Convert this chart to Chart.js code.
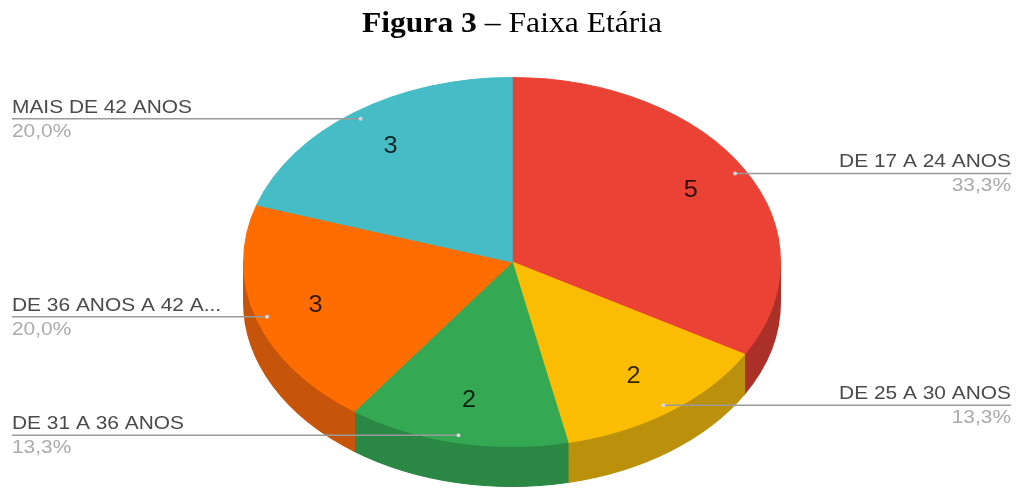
<!DOCTYPE html>
<html lang="pt">
<head>
    <meta charset="UTF-8">
    <title>Faixa Etária</title>
    <script src="https://cdn.jsdelivr.net/npm/chart.js"></script>
    <style>
        html, body { margin: 0; padding: 0; background: #fff; }
        .chart-container { position: relative; width: 1016px; height: 489px; }
    </style>
</head>
<body>
    <div class="chart-container">
        <canvas id="pieChart"></canvas>
    </div>

    <script>
        // data
        var categories = ['DE 17 A 24 ANOS', 'DE 25 A 30 ANOS', 'DE 31 A 36 ANOS', 'DE 36 ANOS A 42 A...', 'MAIS DE 42 ANOS'];
        var counts = [5, 2, 2, 3, 3];
        var sliceColors = ['#ea4335', '#fbbc04', '#34a853', '#ff6d01', '#46bdc6'];
        var sideColors = ['#ab3028', '#bb910b', '#2a8744', '#c6540b', '#379aa2'];
        var labelSide = ['right', 'right', 'left', 'left', 'left'];

        var TILT = 185 / 269;  // top face is squashed into an ellipse
        var DEPTH = 40;        // thickness of the pie
        var STRETCH = 1.1;     // source text is a little wide

        var total = counts.reduce(function (a, b) { return a + b; }, 0);

        function pct(v) {
            return (v / total * 100).toFixed(1).replace('.', ',') + '%';
        }

        function wideText(ctx, txt, x, y, align, k) {
            var w = ctx.measureText(txt).width * k;
            ctx.save();
            ctx.translate(align === 'right' ? x - w : x, y);
            ctx.scale(k, 1);
            ctx.textAlign = 'left';
            ctx.fillText(txt, 0, 0);
            ctx.restore();
        }

        // point on the top face, f = fraction of radius along the slice middle
        function facePoint(a, f) {
            var mid = (a.startAngle + a.endAngle) / 2;
            return {
                x: a.x + Math.cos(mid) * a.outerRadius * f / TILT,
                y: a.y + Math.sin(mid) * a.outerRadius * f
            };
        }

        var pie3d = {
            id: 'pie3d',
            beforeDatasetsDraw: function (chart) {
                var ctx = chart.ctx;
                var arcs = chart.getDatasetMeta(0).data;
                var c = arcs[0];
                ctx.save();
                ctx.translate(c.x, c.y);
                ctx.scale(1 / TILT, 1);
                ctx.translate(-c.x, -c.y);
                // side wall (front half only)
                arcs.forEach(function (a, i) {
                    var s = Math.max(a.startAngle, 0);
                    var e = Math.min(a.endAngle, Math.PI);
                    if (e <= s) return;
                    ctx.beginPath();
                    ctx.arc(a.x, a.y, a.outerRadius, s, e);
                    ctx.arc(a.x, a.y + DEPTH, a.outerRadius, e, s, true);
                    ctx.closePath();
                    ctx.fillStyle = sideColors[i];
                    ctx.fill();
                    ctx.strokeStyle = sideColors[i];
                    ctx.lineWidth = 1;
                    ctx.stroke();
                });
            },
            afterDatasetsDraw: function (chart) {
                chart.ctx.restore();
            },
            afterDraw: function (chart) {
                var ctx = chart.ctx;
                var arcs = chart.getDatasetMeta(0).data;

                // values inside slices
                ctx.save();
                ctx.font = '23px "Liberation Sans", Arial, sans-serif';
                ctx.fillStyle = 'rgba(0,0,0,0.8)';
                ctx.textBaseline = 'middle';
                arcs.forEach(function (a, i) {
                    var p = facePoint(a, 0.77);
                    var w = ctx.measureText(String(counts[i])).width;
                    wideText(ctx, String(counts[i]), p.x - w * STRETCH / 2, p.y, 'left', STRETCH);
                });
                ctx.restore();

                // outside labels with leader lines
                ctx.save();
                ctx.font = '19px "Liberation Sans", Arial, sans-serif';
                ctx.textBaseline = 'alphabetic';
                arcs.forEach(function (a, i) {
                    var p = facePoint(a, 0.96);
                    var right = labelSide[i] === 'right';
                    var tx = right ? 1011 : 12;
                    ctx.strokeStyle = '#9a9a9a';
                    ctx.lineWidth = 1.5;
                    ctx.beginPath();
                    ctx.moveTo(p.x, p.y);
                    ctx.lineTo(tx, p.y);
                    ctx.stroke();
                    ctx.fillStyle = '#d6d6d6';
                    ctx.beginPath();
                    ctx.arc(p.x, p.y, 2, 0, Math.PI * 2);
                    ctx.fill();
                    ctx.fillStyle = '#4a4a4a';
                    wideText(ctx, categories[i], tx, p.y - 6, right ? 'right' : 'left', STRETCH);
                    ctx.fillStyle = '#ababab';
                    wideText(ctx, pct(counts[i]), tx, p.y + 18, right ? 'right' : 'left', STRETCH);
                });
                ctx.restore();

                // figure caption
                ctx.save();
                var k = 1.09;
                var boldPart = 'Figura 3';
                var restPart = ' \u2013 Faixa Et\u00e1ria';
                ctx.font = 'bold 29px "Liberation Serif", "Times New Roman", serif';
                var w1 = ctx.measureText(boldPart).width;
                ctx.font = '29px "Liberation Serif", "Times New Roman", serif';
                var w2 = ctx.measureText(restPart).width;
                var x0 = 512 - (w1 + w2) * k / 2;
                ctx.fillStyle = '#000';
                ctx.font = 'bold 29px "Liberation Serif", "Times New Roman", serif';
                wideText(ctx, boldPart, x0, 32, 'left', k);
                ctx.font = '29px "Liberation Serif", "Times New Roman", serif';
                wideText(ctx, restPart, x0 + w1 * k, 32, 'left', k);
                ctx.restore();
            }
        };

        var pieConfig = {
            type: 'pie',
            data: {
                labels: categories,
                datasets: [{
                    data: counts,
                    backgroundColor: sliceColors,
                    borderColor: sliceColors,
                    borderWidth: 1,
                    clip: false
                }]
            },
            options: {
                responsive: true,
                maintainAspectRatio: false,
                animation: false,
                layout: {
                    padding: { top: 77, bottom: 42, left: 8, right: 0 }
                },
                plugins: {
                    legend: { display: false },
                    tooltip: { enabled: false }
                }
            },
            plugins: [pie3d]
        };

        var pieChart = new Chart(document.getElementById('pieChart').getContext('2d'), pieConfig);
    </script>
</body>
</html>
